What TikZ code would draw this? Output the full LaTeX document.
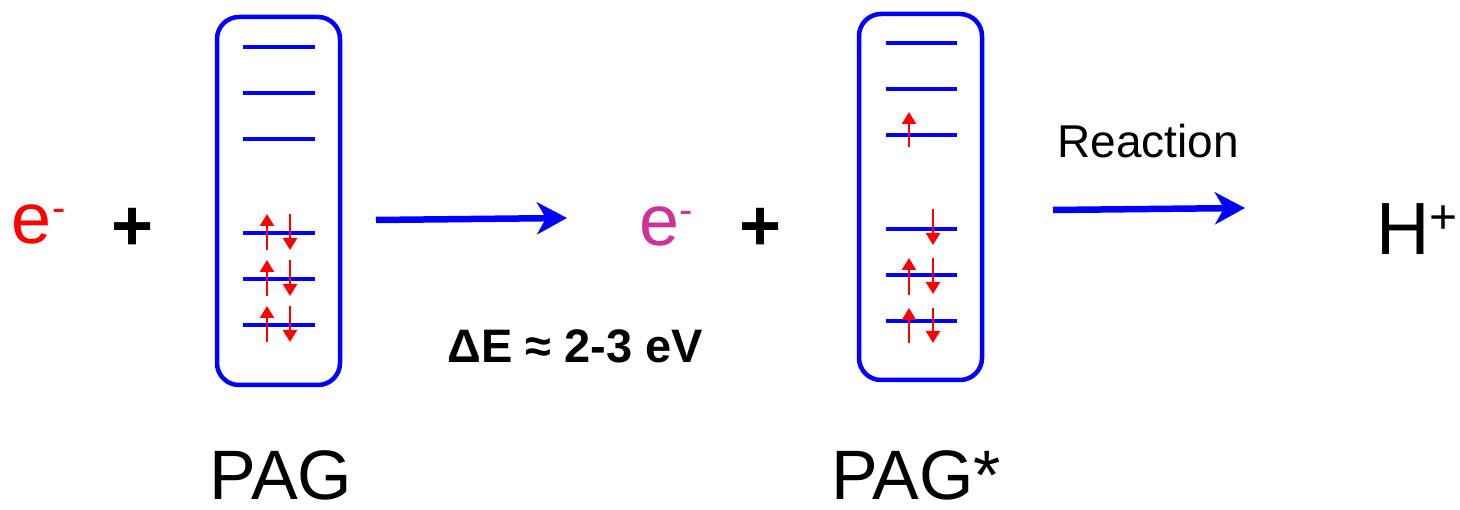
\documentclass[tikz,border=0pt]{standalone}
\usepackage{fontspec}
\setmainfont{Liberation Sans}
\usetikzlibrary{arrows.meta}
\definecolor{pblue}{RGB}{0,0,255}
\definecolor{pred}{RGB}{255,0,0}
\definecolor{pmag}{RGB}{204,51,153}
\begin{document}
\begin{tikzpicture}[x=1pt,y=-1pt,
  txt/.style={inner sep=0pt, outer sep=0pt},
  molbox/.style={draw=pblue, line width=4.5pt, rounded corners=22pt, inner sep=0pt},
  level/.style={draw=pblue, line width=3.5pt},
  spin/.style={draw=pred, line width=2.2pt, -{Triangle[length=12pt,width=14pt]}},
  bigarrow/.style={draw=pblue, line width=6.5pt, -{Stealth[length=30pt,width=32pt,inset=9pt]}}
]
\useasboundingbox (0,0) rectangle (1460,510);
\fill[white] (0,0) rectangle (1460,510);

% boxes
\node[molbox, minimum width=123pt, minimum height=368pt] (pag) at (278.5,201) {};
\node[molbox, minimum width=123pt, minimum height=366pt] (pags) at (920.5,197) {};

% levels box 1
\foreach \y in {47,93,139,233,279,325} \draw[level] (243,\y) -- (315,\y);
% spins box 1
\foreach \y in {233,279,325} {
  \draw[spin] (267,\y+17) -- (267,\y-19);
  \draw[spin] (290,\y-19) -- (290,\y+17);
}
% levels box 2
\foreach \y in {43,89,135,229,275,321} \draw[level] (886,\y) -- (957,\y);
\draw[spin] (909,147) -- (909,112);
\draw[spin] (933,209) -- (933,245);
\draw[spin] (909,295) -- (909,258);
\draw[spin] (933,258) -- (933,294);
\draw[spin] (909,343) -- (909,308);
\draw[spin] (933,308) -- (933,343);

% texts
\node[txt, anchor=base west, text=pred] (e1) at (12,244) {\fontsize{72}{80}\selectfont e\raisebox{22pt}{\fontsize{40}{44}\selectfont -}};
\node[txt, anchor=base] (p1) at (132.5,251) {\fontsize{72}{80}\selectfont\bfseries +};
\node[txt, anchor=base west, text=pmag] (e2) at (639,246) {\fontsize{72}{80}\selectfont e\raisebox{22pt}{\fontsize{40}{44}\selectfont -}};
\node[txt, anchor=base] (p2) at (760.5,251) {\fontsize{72}{80}\selectfont\bfseries +};
\node[txt, anchor=base] (de) at (575,363) {\fontsize{47}{52}\selectfont\bfseries ΔE ≈ 2-3 eV};
\node[txt, anchor=base] (rx) at (1148,158) {\fontsize{46}{50}\selectfont Reaction};
\node[txt, anchor=base west] (hp) at (1376,255) {\fontsize{74}{80}\selectfont H\raisebox{21pt}{\fontsize{48}{52}\selectfont +}};
\node[txt, anchor=base, text depth=0pt] (lpag) at (281,500) {\fontsize{70}{76}\selectfont PAG};
\node[txt, anchor=base west, text depth=0pt] (lpags) at (831,500) {\fontsize{70}{76}\selectfont PAG*};

% arrows
\coordinate (a1s) at (376,220);
\coordinate (a1e) at (567,218);
\coordinate (a2s) at (1053,210);
\coordinate (a2e) at (1245,208);
\draw[bigarrow] (a1s) -- (a1e);
\draw[bigarrow] (a2s) -- (a2e);
\end{tikzpicture}
\end{document}
